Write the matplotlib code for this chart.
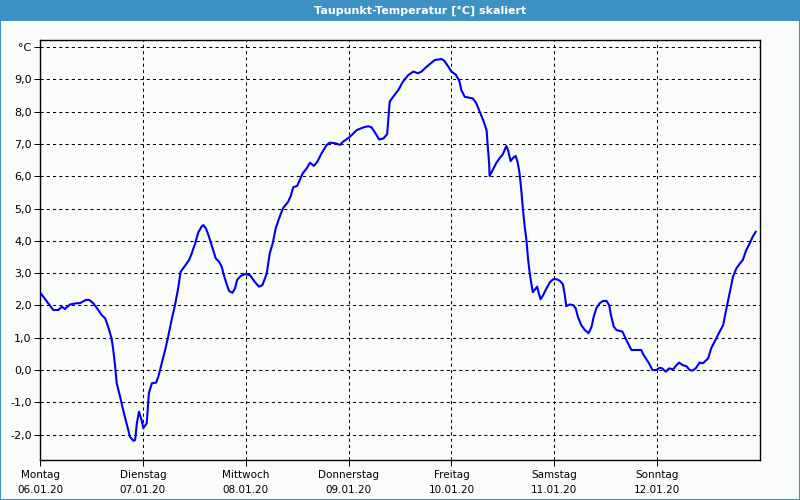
import matplotlib
matplotlib.use("Agg")
import matplotlib.pyplot as plt
from matplotlib.patches import Rectangle

# Stunden ab Montag 06.01.20 00:00
hours = [
    0.2, 3.1, 4.3, 5.1, 5.8, 7.0, 8.6, 9.3, 10.7, 11.5, 12.4, 13.6, 14.4, 15.2, 15.9,
    16.7, 17.1, 17.5, 17.9, 18.7, 19.4, 20.2, 21.0, 21.8, 22.2, 22.6, 23.1, 23.7, 24.1,
    24.9, 25.4,
    26.1, 27.1, 27.6, 28.4, 29.2, 29.9, 30.7, 31.5, 32.3, 32.8, 33.8, 34.8, 35.4, 36.2,
    36.9, 37.7, 38.1, 38.7, 39.3, 39.8, 40.4, 41.0, 41.8, 42.4, 42.9, 43.5, 44.1, 44.9,
    45.5, 46.0, 46.8, 47.8, 49.0,
    50.1, 51.1, 51.9, 52.9, 53.6, 54.3, 55.0, 55.8, 56.7, 57.9, 58.5, 59.1, 60.0, 60.6,
    61.3, 62.2, 63.0, 63.9, 64.7, 65.7, 66.9, 67.6, 69.0, 70.0, 70.7, 71.5,
    72.3, 73.9, 75.4, 76.6, 77.4, 78.5, 79.1, 80.1, 81.0, 81.6, 82.4, 83.6, 84.7, 85.9,
    87.1, 88.2, 89.0, 90.2, 91.3, 92.1, 93.7, 94.3, 95.2, 96.0, 97.0, 97.3, 97.9, 98.3,
    99.1, 99.9, 101.0, 101.8, 102.6, 103.4,
    104.2, 104.4, 104.8, 104.9, 105.7, 106.5, 107.3, 108.0, 108.8, 109.2, 109.8, 110.4,
    111.0, 111.5, 111.9, 112.3, 112.7, 113.1, 113.5, 113.9, 114.3, 114.7, 115.0, 115.7,
    116.0, 116.4, 116.8, 117.4, 118.2, 118.9, 119.7, 120.6, 121.3, 122.0, 122.4, 122.8,
    123.6,
    124.4, 125.0, 125.5, 126.3, 127.1, 128.0, 128.7, 129.2, 129.8, 130.6, 131.4, 132.2,
    132.8, 133.3, 133.9, 134.5, 135.3, 135.9,
    136.8, 138.0, 139.2, 140.3, 140.7, 141.5, 142.1, 142.9, 143.8, 144.6, 145.2, 146.0,
    146.8, 147.7, 148.5, 149.1, 150.0, 150.8, 151.6, 152.2, 153.0, 153.9, 154.7, 155.9,
    156.6, 157.4, 158.6, 159.4, 160.1, 160.9, 161.7, 162.5, 163.2, 164.0, 164.8, 165.6,
    166.3, 167.0,
]
dewpoint = [
    2.37, 1.86, 1.86, 1.96, 1.89, 2.03, 2.07, 2.07, 2.17, 2.17, 2.07, 1.86, 1.70, 1.60, 1.34,
    0.98, 0.62, 0.15, -0.41, -0.83, -1.24, -1.65, -2.07, -2.19, -2.17, -1.65, -1.29, -1.55, -1.80,
    -1.65, -0.72,
    -0.41, -0.39, -0.21, 0.21, 0.62, 1.03, 1.55, 2.01, 2.58, 3.04, 3.22, 3.41, 3.61, 3.92,
    4.25, 4.44, 4.49, 4.39, 4.18, 3.97, 3.72, 3.46, 3.35, 3.20, 2.94, 2.68, 2.45, 2.39,
    2.53, 2.79, 2.91, 2.97, 2.94,
    2.73, 2.58, 2.63, 2.99, 3.61, 3.92, 4.39, 4.70, 5.01, 5.21, 5.39, 5.66, 5.70, 5.88,
    6.09, 6.24, 6.42, 6.32, 6.45, 6.71, 6.97, 7.04, 7.02, 6.97, 7.07, 7.14,
    7.22, 7.43, 7.51, 7.55, 7.51, 7.28, 7.14, 7.17, 7.30, 8.31, 8.46, 8.67, 8.93, 9.13,
    9.24, 9.19, 9.24, 9.39, 9.51, 9.60, 9.63, 9.58, 9.41, 9.24, 9.15, 9.08, 8.93, 8.67,
    8.46, 8.44, 8.41, 8.26, 8.00, 7.74,
    7.43, 7.07, 6.40, 6.01, 6.21, 6.42, 6.57, 6.68, 6.94, 6.81, 6.47, 6.57,
    6.63, 6.40, 6.09, 5.57, 4.95, 4.44, 4.02, 3.41, 2.97, 2.63, 2.41, 2.53,
    2.58, 2.37, 2.19, 2.32, 2.53, 2.70, 2.81, 2.81, 2.76, 2.66, 2.37, 1.98,
    2.03,
    2.01, 1.91, 1.65, 1.39, 1.24, 1.14, 1.34, 1.65, 1.91, 2.07, 2.14, 2.14,
    2.01, 1.65, 1.34, 1.24, 1.21, 1.19,
    0.93, 0.62, 0.62, 0.62, 0.50, 0.33, 0.21, 0.00, 0.00, 0.07, 0.05, -0.05,
    0.05, 0.02, 0.15, 0.23, 0.15, 0.12, 0.00, -0.02, 0.05, 0.23, 0.21, 0.36,
    0.67, 0.88, 1.19, 1.39, 1.86, 2.37, 2.89, 3.15, 3.28, 3.41, 3.72, 3.92,
    4.13, 4.28,
]

day_ticks = [0, 24, 48, 72, 96, 120, 144]
day_labels = ["Montag\n06.01.20", "Dienstag\n07.01.20", "Mittwoch\n08.01.20",
              "Donnerstag\n09.01.20", "Freitag\n10.01.20", "Samstag\n11.01.20",
              "Sonntag\n12.01.20"]
y_ticks = [-2, -1, 0, 1, 2, 3, 4, 5, 6, 7, 8, 9, 10]
y_labels = ["-2,0", "-1,0", "0,0", "1,0", "2,0", "3,0", "4,0", "5,0", "6,0",
            "7,0", "8,0", "9,0", "°C"]

bg = "#fafcfa"
frame_blue = "#3d92c4"

fig = plt.figure(figsize=(8, 5), dpi=100, facecolor=bg)
ax = fig.add_axes([0.05, 0.08, 0.90, 0.8394])
ax.set_facecolor(bg)

ax.plot(hours, dewpoint, color="#0000f0", linewidth=1.5, zorder=3)

ax.set_xlim(0, 168)
ax.set_ylim(-2.786, 10.21)
ax.set_xticks(day_ticks)
ax.set_xticklabels(day_labels, fontsize=7.5, linespacing=1.65)
ax.set_yticks(y_ticks)
ax.set_yticklabels(y_labels, fontsize=8)

ax.tick_params(axis="both", direction="out", length=4, width=0.72, color="black")
ax.tick_params(axis="x", pad=3)
ax.tick_params(axis="y", pad=2)

# gestrichelte Gitterlinien
ax.grid(True, color="black", linewidth=0.75, linestyle=(0, (3, 3)))
for s in ax.spines.values():
    s.set_color("black")
    s.set_linewidth(1.0)

# Titelleiste und Fensterrahmen
fig.patches.append(Rectangle((0, 0.958), 1, 0.042, transform=fig.transFigure,
                             facecolor=frame_blue, edgecolor="none", zorder=0))
fig.patches.append(Rectangle((0, 0), 1, 1, transform=fig.transFigure,
                             facecolor="none", edgecolor=frame_blue, linewidth=1.5, zorder=0))
fig.text(0.525, 0.979, "Taupunkt-Temperatur [°C] skaliert", color="white",
         fontsize=8, fontweight="bold", ha="center", va="center")

fig.savefig("out.png", dpi=100, facecolor=bg)
